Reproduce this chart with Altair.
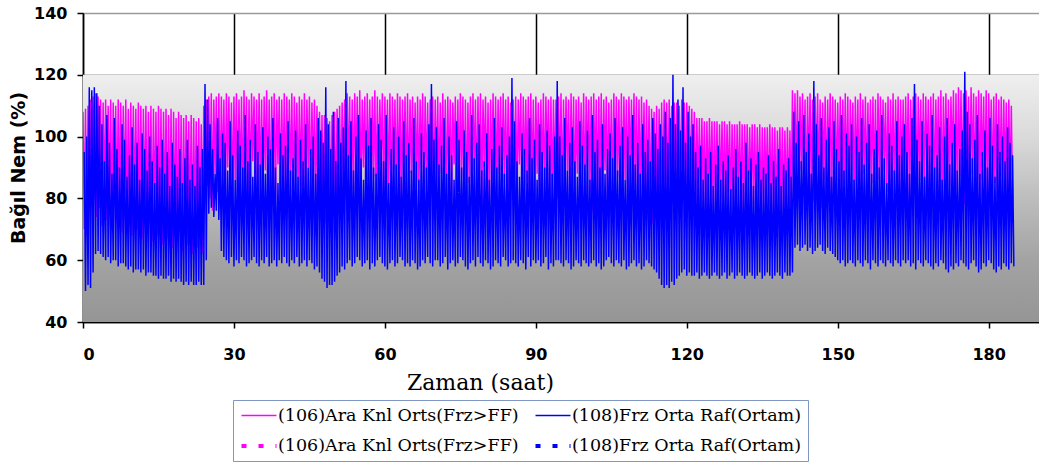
import altair as alt
import pandas as pd

# Relative humidity (%) over the test, read every half hour: one on/off cycle
# of the compressor per slot, stored as the cycle's peak and its trough.
mag_hi = [
    108, 109, 110, 112, 113, 114, 113, 112, 111, 112, 110, 112, 111, 110, 112, 111,
    110, 112, 109, 111, 110, 109, 111, 110, 109, 110, 108, 110, 109, 108, 110, 109,
    108, 109, 107, 109, 108, 106, 108, 107, 106, 107, 105, 107, 106, 105, 106, 104,
    110, 112, 113, 114, 112, 113, 114, 113, 112, 114, 113, 111, 113, 114, 112, 113,
    115, 113, 112, 114, 113, 112, 114, 112, 113, 115, 112, 113, 114, 112, 113, 112,
    114, 113, 112, 114, 113, 111, 113, 112, 114, 112, 113, 111, 112, 110, 108, 107,
    107, 106, 105, 107, 108, 109, 110, 111, 112, 114, 113, 112, 114, 113, 115, 112,
    113, 114, 112, 113, 115, 113, 112, 114, 113, 112, 114, 113, 112, 114, 113, 112,
    113, 114, 112, 113, 111, 113, 112, 114, 113, 111, 112, 113,
    112, 113, 111, 114, 112, 113, 112, 111, 113, 112, 114, 113, 112, 111, 113, 114,
    112, 113, 114, 112, 113, 111, 112, 114, 113, 112, 113, 114, 112, 113, 111, 112,
    113, 112, 114, 113, 112, 113, 114, 112, 113, 111, 112, 114, 113, 112, 113, 112,
    112, 113, 114, 112, 113, 112, 114, 113, 112, 113, 111, 114, 113, 112, 113, 114,
    112, 113, 114, 112, 113, 111, 112, 114, 113, 112, 114, 113, 112, 113, 112, 114,
    113, 112, 113, 111, 112, 110, 109, 108, 110, 109, 111, 112, 111, 112, 110, 111,
    111, 110, 112, 111,
    111, 110, 109, 108, 106, 106, 106, 105, 105, 106, 105, 105, 105, 104, 105, 105,
    104, 105, 104, 104, 104, 105, 104, 104, 104, 103, 104, 104, 103, 104, 103, 103,
    103, 104, 103, 103, 102, 103, 103, 102, 103, 102,
    115, 114, 115, 113, 114, 112, 113, 114, 112, 113, 114, 112, 111, 113, 112, 114,
    113, 112, 111, 113, 112, 114, 113, 112, 111, 113, 112, 114, 112, 113, 111, 112,
    113, 112, 114, 113, 112, 111, 113, 112, 114, 112, 113, 112,
    112, 113, 114, 112, 113, 114, 113, 112, 114, 113, 112, 113, 114, 112, 113, 115,
    113, 114, 112, 113, 115, 114, 116, 115, 114, 115, 113, 116, 114, 113, 115, 114,
    113, 115, 114, 112, 113, 114, 112, 113, 112, 111, 112, 110,
]
mag_lo = [
    70, 68, 82, 78, 80, 74, 77, 71, 79, 73, 76, 70, 78, 72, 75, 69,
    77, 71, 74, 68, 76, 70, 73, 67, 75, 69, 72, 66, 74, 68, 71, 65,
    73, 67, 70, 64, 72, 66, 69, 63, 71, 65, 68, 62, 70, 64, 67, 62,
    78, 84, 80, 76, 88, 82, 79, 85, 77, 90, 81, 78, 86, 80, 83, 76,
    87, 79, 82, 92, 78, 84, 80, 77, 89, 81, 76, 85, 80, 91, 78, 83,
    79, 86, 82, 77, 88, 80, 84, 78, 82, 90, 79, 85, 80, 77, 74, 72,
    72, 74, 73, 76, 75, 80, 78, 84, 80, 86, 79, 83, 88, 78, 82, 90,
    77, 84, 80, 87, 79, 83, 92, 78, 85, 81, 76, 89, 80, 84, 78, 86,
    82, 79, 88, 77, 84, 81, 90, 79, 83, 78, 86, 80,
    84, 79, 88, 81, 77, 86, 80, 91, 78, 83, 87, 80, 76, 85, 82, 89,
    79, 84, 78, 90, 81, 77, 86, 80, 83, 88, 79, 85, 81, 76, 87, 82,
    80, 91, 78, 84, 86, 79, 83, 77, 88, 81, 85, 79, 90, 82, 78, 84,
    80, 86, 78, 83, 89, 79, 84, 77, 88, 81, 85, 79, 90, 82, 76, 86,
    80, 84, 78, 89, 81, 85, 79, 83, 87, 80, 77, 86, 82, 88, 79, 84,
    81, 78, 85, 76, 80, 74, 72, 73, 75, 77, 79, 76, 80, 82, 78, 84,
    81, 79, 85, 80,
    78, 80, 76, 79, 82, 77, 80, 75, 79, 81, 76, 78, 74, 80, 77, 79,
    82, 76, 78, 75, 80, 77, 74, 79, 76, 81, 78, 75, 79, 74, 77, 80,
    75, 78, 76, 73, 79, 77, 74, 76, 78, 75,
    82, 86, 80, 89, 84, 78, 87, 81, 79, 88, 83, 77, 86, 80, 90, 78,
    84, 81, 87, 79, 85, 82, 77, 89, 80, 86, 78, 84, 88, 81, 79, 85,
    83, 77, 86, 80, 89, 82, 78, 84, 81, 87, 79, 85,
    81, 87, 79, 84, 90, 80, 86, 78, 83, 89, 80, 85, 78, 88, 82, 77,
    86, 80, 84, 91, 79, 83, 87, 81, 78, 85, 82, 88, 80, 84, 79, 86,
    82, 78, 87, 80, 85, 79, 83, 81, 84, 80, 82, 79,
]
blu_hi = [
    95, 100, 116, 115, 116, 114, 110, 104, 92, 107, 98, 88, 106, 96, 90, 104,
    99, 87, 94, 103, 91, 98, 86, 101, 96, 89, 100, 92, 85, 97, 90, 99,
    88, 95, 84, 98, 91, 87, 96, 85, 93, 99, 86, 91, 84, 97, 90, 96,
    117, 112, 104, 96, 88, 106, 93, 101, 98, 89, 105, 94, 86, 102, 97, 90,
    107, 92, 99, 87, 104, 95, 91, 103, 88, 100, 96, 106, 90, 85, 101, 94,
    97, 105, 89, 93, 102, 87, 99, 92, 104, 90, 96, 100, 88, 106, 102, 98,
    116, 104, 96, 108, 92, 106, 98, 103, 118, 94, 105, 89, 100, 107, 93, 86,
    102, 97, 106, 90, 88, 104, 99, 92, 107, 85, 96, 103, 91, 100, 87, 105,
    94, 98, 89, 106, 92, 86, 101, 95, 90, 104, 117, 99,
    103, 91, 97, 106, 88, 100, 94, 86, 105, 99, 90, 102, 95, 87, 107, 93,
    98, 104, 89, 92, 101, 86, 96, 106, 90, 97, 103, 88, 94, 100, 119, 105,
    92, 87, 101, 96, 89, 106, 93, 99, 86, 104, 95, 90, 102, 97, 88, 100,
    118, 100, 94, 106, 89, 98, 103, 92, 87, 105, 97, 91, 102, 86, 107, 95,
    99, 90, 104, 88, 96, 101, 93, 106, 89, 97, 103, 86, 100, 94, 107, 91,
    98, 88, 104, 95, 99, 92, 106, 101, 96, 104, 100, 108, 98, 106, 120, 104,
    112, 102, 116, 98,
    108, 100, 104, 95, 90, 97, 86, 93, 88, 95, 84, 91, 97, 86, 92, 89,
    94, 83, 90, 96, 87, 92, 85, 98, 89, 93, 84, 91, 95, 86, 90, 88,
    94, 85, 92, 87, 96, 84, 91, 89, 93, 87,
    108, 98, 105, 92, 107, 95, 101, 88, 118, 104, 94, 106, 90, 99, 103, 87,
    105, 96, 92, 107, 89, 101, 97, 104, 86, 100, 95, 106, 91, 98, 104, 88,
    96, 102, 90, 107, 93, 85, 101, 97, 89, 105, 94, 100,
    104, 95, 88, 106, 117, 99, 92, 105, 87, 101, 97, 107, 90, 94, 103, 86,
    100, 106, 91, 98, 104, 89, 96, 102, 121, 108, 104, 93, 99, 107, 88, 95,
    102, 90, 106, 97, 87, 104, 95, 100, 92, 103, 98, 94,
]
blu_lo = [
    50, 52, 51, 56, 62, 63, 62, 61, 60, 61, 59, 60, 60, 58, 59, 59,
    58, 57, 58, 56, 57, 57, 56, 57, 55, 56, 56, 55, 55, 54, 55, 54,
    54, 55, 53, 54, 53, 54, 53, 52, 53, 52, 53, 52, 52, 53, 52, 52,
    60, 75, 77, 74, 76, 73, 63, 61, 60, 59, 61, 58, 60, 59, 61, 60,
    58, 59, 60, 61, 59, 58, 60, 59, 61, 58, 59, 60, 58, 60, 59, 61,
    59, 58, 60, 59, 61, 58, 59, 60, 58, 60, 59, 57, 58, 56, 54, 53,
    51, 52, 52, 53, 55, 56, 58, 57, 59, 60, 58, 59, 61, 60, 58, 59,
    60, 57, 59, 58, 60, 61, 59, 58, 57, 59, 60, 58, 59, 61, 60, 58,
    59, 58, 60, 59, 57, 58, 60, 59, 61, 59, 58, 60,
    60, 58, 59, 61, 57, 59, 60, 58, 59, 61, 60, 58, 57, 59, 60, 58,
    61, 59, 58, 60, 59, 57, 58, 60, 59, 58, 61, 60, 58, 59, 60, 59,
    58, 60, 59, 57, 61, 58, 60, 59, 60, 58, 59, 61, 57, 59, 58, 60,
    60, 59, 58, 60, 59, 57, 58, 60, 59, 58, 60, 59, 58, 59, 60, 58,
    59, 57, 58, 60, 61, 59, 58, 60, 59, 58, 60, 57, 58, 59, 60, 58,
    59, 57, 58, 60, 59, 58, 57, 56, 54, 52, 51, 52, 51, 53, 52, 54,
    55, 56, 57, 55,
    56, 55, 55, 56, 54, 55, 56, 55, 54, 55, 56, 55, 54, 55, 56, 54,
    55, 56, 54, 55, 56, 55, 54, 55, 56, 55, 54, 55, 56, 54, 55, 56,
    55, 54, 55, 56, 55, 54, 56, 55, 55, 56,
    64, 65, 63, 64, 65, 63, 64, 62, 63, 64, 65, 63, 62, 64, 63, 62,
    61, 60, 59, 60, 58, 59, 60, 59, 58, 60, 59, 58, 60, 59, 57, 60,
    59, 58, 60, 59, 58, 60, 59, 58, 60, 59, 58, 60,
    59, 60, 58, 59, 57, 60, 59, 58, 60, 59, 58, 57, 59, 58, 60, 59,
    57, 56, 58, 57, 59, 58, 60, 59, 58, 57, 59, 60, 58, 56, 57, 59,
    58, 60, 59, 57, 56, 58, 57, 59, 58, 57, 59, 58,
]

series_keys = ["m", "b", "md", "bd"]
series_colors = ["#ff00ff", "#0000ff", "#ff00ff", "#0000ff"]
series_dash = [[1, 0], [1, 0], [5, 12], [5, 12]]
series_width = [1.5, 1.5, 4, 4]
label_106 = "(106)Ara Knl Orts(Frz>FF)"
label_108 = "(108)Frz Orta Raf(Ortam)"

x_ticks = [0, 30, 60, 90, 120, 150, 180]
y_ticks = [40, 60, 80, 100, 120, 140]

# Slot k starts at k/2 hours; peaks and troughs alternate inside it.
rows = []
for k in range(len(mag_hi)):
    t = k * 0.5
    rows.append({"t": t, "v": mag_hi[k], "s": "m"})
    rows.append({"t": t + 0.25, "v": mag_lo[k], "s": "m"})
    rows.append({"t": t + 0.25, "v": blu_hi[k], "s": "b"})
    rows.append({"t": t + 0.5, "v": blu_lo[k], "s": "b"})
df = pd.DataFrame(rows)

x_scale = alt.Scale(domain=[0, 190], nice=False, zero=False)
y_scale = alt.Scale(domain=[40, 140], nice=False, zero=False)

x_enc = alt.X(
    "t:Q", scale=x_scale,
    axis=alt.Axis(values=x_ticks, title="Zaman (saat)", format="d",
                  labelPadding=18, titlePadding=10, titleX=397, titleAlign="center"),
)
y_enc = alt.Y(
    "v:Q", scale=y_scale,
    axis=alt.Axis(values=y_ticks, title="Bağıl Nem (%)", format="d",
                  labelPadding=10, titlePadding=5,
                  gridColor=alt.condition("datum.value == 140", alt.value("#9a9a9a"), alt.value("#000000"))),
)

label_expr = (
    f"datum.value == 'm' || datum.value == 'md' ? '{label_106}' : '{label_108}'"
)
# Legend key: a horizontal stroke twice as wide as its nominal symbol box
legend = alt.Legend(
    orient="none", legendX=150, legendY=387, columns=2, direction="horizontal", title=None,
    symbolType="M-2,0H2", symbolSize=306, symbolOffset=9,
    labelFont="DejaVu Serif", labelFontSize=17.5, labelColor="#000000",
    labelLimit=400, labelOffset=8, columnPadding=8, rowPadding=11,
    padding=6, strokeColor="#7f95c2", fillColor="#ffffff",
    labelExpr=label_expr,
)
color_enc = alt.Color("s:N", scale=alt.Scale(domain=series_keys, range=series_colors), legend=legend)
dash_enc = alt.StrokeDash("s:N", scale=alt.Scale(domain=series_keys, range=series_dash), legend=legend)
width_enc = alt.StrokeWidth(
    "s:N", scale=alt.Scale(type="ordinal", domain=series_keys, range=series_width), legend=legend
)

# Shaded plot background below the 120 % line
background = alt.Chart(pd.DataFrame({"k": [0]})).mark_rect(
    color=alt.LinearGradient(
        gradient="linear",
        stops=[
            alt.GradientStop(color="#efefef", offset=0),
            alt.GradientStop(color="#dadada", offset=0.25),
            alt.GradientStop(color="#bdbdbd", offset=0.5),
            alt.GradientStop(color="#a3a3a3", offset=0.75),
            alt.GradientStop(color="#959595", offset=1),
        ],
        x1=0, x2=0, y1=0, y2=1,
    )
).encode(
    x=alt.datum(0, scale=x_scale), x2=alt.datum(190),
    y=alt.datum(120, scale=y_scale), y2=alt.datum(40),
)

base = alt.Chart(df).encode(x=x_enc, y=y_enc, color=color_enc, strokeDash=dash_enc, strokeWidth=width_enc)
mag_line = base.transform_filter("datum.s == 'm'").mark_line(clip=True)
blu_line = base.transform_filter("datum.s == 'b'").mark_line(clip=True)

chart = alt.layer(background, mag_line, blu_line).properties(
    width=956, height=309,
    autosize=alt.AutoSizeParams(type="none"),
    padding={"left": 83, "top": 13, "right": 0, "bottom": 140},
).configure_view(
    stroke=None, fill="#ffffff"
).configure_axis(
    labelFont="DejaVu Sans", labelFontWeight="bold", labelFontSize=16, labelColor="#000000",
    domainColor="#000000", domainWidth=1.5, tickColor="#000000", tickWidth=1.5, tickSize=6,
    gridColor="#000000", gridWidth=1.5, grid=True,
).configure_axisX(
    titleFont="DejaVu Serif", titleFontWeight="normal", titleFontSize=22, titleColor="#000000",
).configure_axisY(
    titleFont="DejaVu Sans", titleFontWeight="bold", titleFontSize=19, titleColor="#000000",
)

chart.save("out.html", embed_options={"renderer": "svg", "actions": False})
